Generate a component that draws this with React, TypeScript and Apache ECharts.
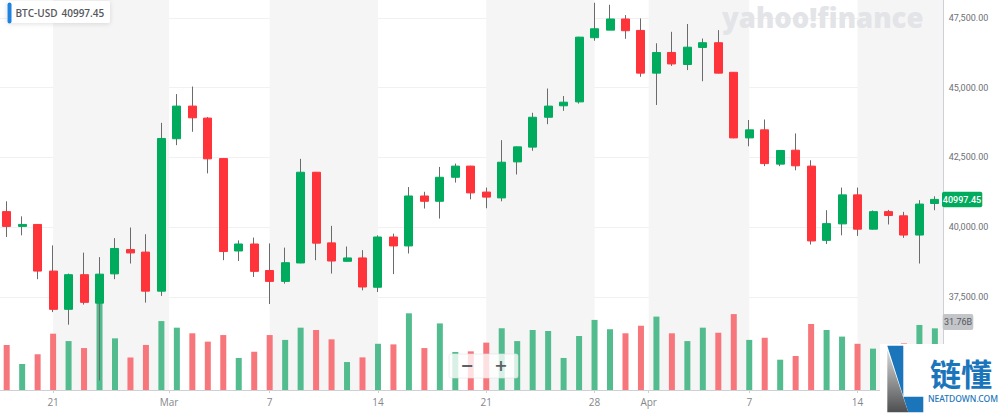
import React, { useEffect, useRef } from "react";
import * as echarts from "echarts";

// one row per day, Feb 18 -> Apr 19
const opens = [40560, 40030, 40100, 38430, 37060, 38300, 37280, 38330, 39200, 39110, 37710, 43170, 44340, 43910, 42460, 39150, 39400, 38450, 38060, 38720, 41970, 39440, 38780, 38900, 37850, 39650, 39330, 41120, 40930, 41790, 42190, 41260, 41050, 42340, 42870, 43940, 44350, 44490, 46790, 47060, 47460, 47050, 45520, 46260, 45830, 46440, 46610, 45550, 43200, 43490, 42260, 42760, 42190, 39530, 40120, 41160, 39930, 40560, 40410, 39720, 40850];
const closes = [40030, 40100, 38430, 37060, 38300, 37310, 38320, 39240, 39080, 37710, 43180, 44340, 43920, 42450, 39130, 39400, 38420, 38060, 38730, 41970, 39430, 38790, 38900, 37860, 39650, 39330, 41120, 40930, 41790, 42190, 41230, 41080, 42330, 42880, 43940, 44340, 44480, 46810, 47110, 47460, 47040, 45520, 46260, 45850, 46450, 46610, 45520, 43200, 43490, 42280, 42750, 42200, 39510, 40130, 41160, 39930, 40560, 40420, 39720, 40830, 40997.45];
const lows = [39650, 39710, 38140, 36960, 36510, 37230, 34510, 38140, 38700, 37300, 37540, 42940, 43420, 41930, 38820, 38790, 38220, 37250, 37980, 38710, 38820, 38340, 38780, 37740, 37680, 38320, 39060, 40670, 40310, 41600, 41000, 40680, 40930, 41890, 42740, 43690, 44170, 44430, 46680, 47060, 46750, 45390, 44380, 45780, 45630, 45230, 45510, 43190, 42900, 42190, 42190, 42040, 39380, 39400, 39710, 39690, 39920, 40100, 39620, 38700, 40610];
const highs = [40930, 40390, 40110, 39350, 38340, 39090, 38930, 39610, 39990, 39750, 43740, 44770, 45040, 43950, 42470, 39530, 39630, 39420, 39270, 42450, 41980, 40050, 39310, 39180, 39710, 39770, 41440, 41270, 42160, 42280, 42200, 41420, 43120, 42890, 44100, 44970, 44700, 46820, 48040, 47970, 47600, 47480, 46590, 47000, 47280, 46760, 47060, 45560, 43840, 43860, 42760, 43360, 42400, 40610, 41420, 41420, 40600, 40620, 40550, 40970, 41110];
// billions
const volumes = [23.2, 13.4, 18.4, 29.0, 25.2, 21.6, 46.4, 26.6, 16.8, 23.2, 35.5, 32.1, 29.2, 24.9, 28.3, 16.5, 19.7, 28.3, 25.8, 32.1, 30.9, 26.1, 14.4, 16.8, 23.8, 23.5, 39.5, 21.6, 34.3, 19.6, 19.9, 24.4, 31.8, 25.2, 30.9, 30.4, 16.5, 27.8, 36.1, 31.3, 29.2, 33.1, 37.8, 29.2, 25.2, 32.1, 29.5, 39.1, 25.8, 26.9, 15.6, 17.5, 34.0, 30.9, 27.5, 23.8, 21.3, 20.0, 24.0, 33.5, 31.76];

const xTickDays = [3, 10.5, 17, 24, 31, 38, 41.5, 48, 55];
const xTickLabels = ["21", "Mar", "7", "14", "21", "28", "Apr", "7", "14"];
const priceTicks = [37500, 40000, 42500, 45000, 47500];
// weekly shading, in day numbers
const bandStarts = [3, 17, 31, 41.5, 55];
const bandEnds = [10.5, 24, 38, 48, 60.57];

const UP = "#00ab5e";
const DOWN = "#ff333a";
const UP_VOL = "#52bc8e";
const DOWN_VOL = "#f7767c";
const WICK = "#6b6b6b";
const BLUE = "#1b75bb";

const days = opens.map((_, i) => i);

const App: React.FC = () => {
  const ref = useRef<HTMLDivElement>(null);

  useEffect(() => {
    if (!ref.current) return;
    const chart = echarts.init(ref.current, null, { renderer: "svg" });

    chart.setOption({
      animation: false,
      grid: { left: 0, top: 0, width: 943.7, height: 390 },
      xAxis: {
        type: "value",
        min: -0.433,
        max: 60.57,
        axisLine: { show: true, onZero: false, lineStyle: { color: "#cfd0d4" } },
        axisTick: { show: true, customValues: xTickDays, length: 3, lineStyle: { color: "#cfd0d4" } },
        splitLine: { show: false },
        axisLabel: {
          customValues: xTickDays,
          formatter: (v: number) => xTickLabels[xTickDays.indexOf(v)] ?? "",
          color: "#85878b",
          fontFamily: "Open Sans",
          fontSize: 10,
          margin: 7,
        },
      },
      yAxis: [
        {
          type: "value",
          position: "right",
          min: 34170,
          max: 48140,
          axisLine: { show: true, onZero: false, lineStyle: { color: "#cfd0d4" } },
          axisTick: { show: false, customValues: priceTicks },
          splitLine: { show: true, lineStyle: { color: "#f1f1f2" } },
          axisLabel: {
            customValues: priceTicks,
            formatter: (v: number) =>
              v.toLocaleString("en-US", { minimumFractionDigits: 2 }),
            color: "#6e7074",
            fontFamily: "Roboto",
            fontSize: 9,
            margin: 5,
          },
        },
        { type: "value", min: 0, max: 200.85, show: false },
      ],
      series: [
        {
          type: "bar",
          name: "Volume",
          yAxisIndex: 1,
          barWidth: 6,
          z: 1,
          data: days.map((d) => ({
            value: [d, volumes[d]],
            itemStyle: { color: closes[d] >= opens[d] ? UP_VOL : DOWN_VOL },
          })),
          markArea: {
            silent: true,
            z: 0,
            itemStyle: { color: "#f5f5f6" },
            data: bandStarts.map((s, i) => [{ xAxis: s }, { xAxis: bandEnds[i] }]),
          },
        },
        {
          // wicks alone, thin and grey; the bodies go on top
          type: "candlestick",
          name: "Range",
          barWidth: 1,
          z: 3,
          encode: { x: 0, y: [1, 2, 3, 4] },
          itemStyle: { color: WICK, color0: WICK, borderColor: WICK, borderColor0: WICK, borderWidth: 1 },
          data: days.map((d) => [d, opens[d], closes[d], lows[d], highs[d]]),
        },
        {
          type: "candlestick",
          name: "BTC-USD",
          barWidth: 8.5,
          z: 4,
          encode: { x: 0, y: [1, 2, 3, 4] },
          itemStyle: { color: UP, color0: DOWN, borderColor: UP, borderColor0: DOWN, borderWidth: 1 },
          data: days.map((d) => [
            d,
            opens[d],
            closes[d],
            Math.min(opens[d], closes[d]),
            Math.max(opens[d], closes[d]),
          ]),
        },
      ],
      graphic: [
        // watermark
        {
          type: "text",
          z: 2,
          x: 722,
          y: 17,
          style: {
            text: "yahoo!finance",
            fill: "#e3e4e7",
            fontFamily: "Open Sans",
            fontWeight: 800,
            fontSize: 27.5,
            textVerticalAlign: "middle",
          },
        },
        // top-left quote box
        {
          type: "rect",
          z: 10,
          shape: { x: 7, y: 1, width: 103, height: 22, r: 2 },
          style: { fill: "#fff", shadowBlur: 5, shadowColor: "rgba(0,0,0,0.12)", shadowOffsetY: 1 },
        },
        {
          type: "rect",
          z: 11,
          shape: { x: 7.5, y: 2.5, width: 4, height: 21, r: 2 },
          style: { fill: "#1e82e0" },
        },
        {
          type: "text",
          z: 11,
          x: 15.5,
          y: 13.3,
          style: { text: "BTC-USD", fill: "#55585d", fontFamily: "Open Sans", fontSize: 10, fontWeight: 600, textVerticalAlign: "middle" },
        },
        {
          type: "text",
          z: 11,
          x: 61.5,
          y: 13.3,
          style: { text: "40997.45", fill: "#55585d", fontFamily: "Open Sans", fontSize: 10, fontWeight: 600, textVerticalAlign: "middle" },
        },
        // last price and last volume tags
        {
          type: "rect",
          z: 10,
          shape: { x: 942, y: 191.7, width: 40.3, height: 15.6, r: 2 },
          style: { fill: UP },
        },
        {
          type: "text",
          z: 11,
          x: 962,
          y: 199.5,
          style: { text: "40997.45", fill: "#fff", fontFamily: "Roboto", fontSize: 9, fontWeight: 500, textAlign: "center", textVerticalAlign: "middle" },
        },
        {
          type: "rect",
          z: 10,
          shape: { x: 942.7, y: 314, width: 30.6, height: 16, r: 2 },
          style: { fill: "#c3c5c9" },
        },
        {
          type: "text",
          z: 11,
          x: 958,
          y: 322,
          style: { text: "31.76B", fill: "#55585d", fontFamily: "Roboto", fontSize: 9, textAlign: "center", textVerticalAlign: "middle" },
        },
        // zoom buttons
        {
          type: "rect",
          z: 10,
          shape: { x: 449, y: 354, width: 69, height: 24, r: 2 },
          style: { fill: "rgba(255,255,255,0.78)", stroke: "rgba(225,226,229,0.6)" },
        },
        {
          type: "text",
          z: 11,
          x: 467,
          y: 365.5,
          style: { text: "−", fill: "#5c5f64", fontFamily: "DejaVu Sans", fontWeight: 700, fontSize: 16, textAlign: "center", textVerticalAlign: "middle" },
        },
        {
          type: "text",
          z: 11,
          x: 501,
          y: 365.5,
          style: { text: "+", fill: "#5c5f64", fontFamily: "DejaVu Sans", fontWeight: 700, fontSize: 16, textAlign: "center", textVerticalAlign: "middle" },
        },
        // site stamp over the corner
        { type: "rect", z: 20, shape: { x: 880, y: 344, width: 120, height: 70 }, style: { fill: "#fff" } },
        {
          type: "polygon",
          z: 21,
          shape: { points: [[887.3, 350], [887.3, 412.3], [908.3, 412.3]] },
          style: {
            fill: new echarts.graphic.LinearGradient(0, 0, 0, 1, [
              { offset: 0, color: "#d8d8d8" },
              { offset: 1, color: "#4d4f50" },
            ]),
          },
        },
        {
          type: "polygon",
          z: 22,
          shape: { points: [[887.3, 345.7], [903.3, 345.7], [903.3, 396.7], [923.3, 396.7], [923.3, 412.3], [908.3, 412.3]] },
          style: { fill: BLUE },
        },
        {
          type: "text",
          z: 22,
          x: 961,
          y: 372.5,
          style: { text: "链懂", fill: BLUE, fontFamily: "Noto Sans CJK SC", fontWeight: 700, fontSize: 31, textAlign: "center", textVerticalAlign: "middle" },
        },
        {
          type: "text",
          z: 22,
          x: 963,
          y: 398.5,
          style: { text: "NEATDOWN.COM", fill: BLUE, fontFamily: "Noto Sans", fontSize: 8.5, fontWeight: 500, textAlign: "center", textVerticalAlign: "middle" },
        },
      ],
    });

    return () => {
      chart.dispose();
    };
  }, []);

  return <div ref={ref} style={{ position: "absolute", left: 0, top: 0, width: 1000, height: 414 }} />;
};

export default App;
